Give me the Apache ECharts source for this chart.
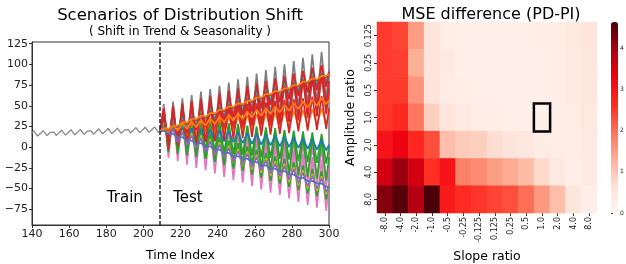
<!DOCTYPE html>
<html>
<head>
<meta charset="utf-8">
<script src="https://cdn.jsdelivr.net/npm/echarts@6/dist/echarts.min.js"></script>
<style>
html, body { margin: 0; padding: 0; background: #fff; }
#main { width: 626px; height: 264px; }
</style>
</head>
<body>
<div id="main"></div>
<script>
// ---- left panel: train series (time index 140..209) ----
var trainStart = 140;
var trainValues = [17.1, 19.6, 17.3, 13.4, 13.5, 17.5, 20.0, 17.6, 13.8, 13.9,
    17.9, 20.3, 18.0, 14.2, 14.3, 18.2, 20.7, 18.4, 14.6, 14.6,
    18.6, 21.1, 18.8, 14.9, 15.0, 19.0, 21.5, 19.1, 15.3, 15.4,
    19.4, 21.8, 19.5, 15.7, 15.8, 19.7, 22.2, 19.9, 16.1, 16.1,
    20.1, 22.6, 20.3, 16.4, 16.5, 20.5, 23.0, 20.6, 16.8, 16.9,
    20.9, 23.3, 21.0, 17.2, 17.3, 21.2, 23.7, 21.4, 17.6, 17.6,
    21.6, 24.1, 21.8, 17.9, 18.0, 22.0, 24.5, 22.1, 18.3, 18.4];
var splitAt = 209;

// test part: peaks / troughs
var testTimes = [209, 211, 213.5, 216, 218.5, 221, 223.5, 226, 228.5, 231, 233.5, 236, 238.5,
    241, 243.5, 246, 248.5, 251, 253.5, 256, 258.5, 261, 263.5, 266, 268.5, 271, 273.5,
    276, 278.5, 281, 283.5, 286, 288.5, 291, 293.5, 296, 298.5, 300];

var testGrey = [18.4, 52,-7, 55,-3, 59,1, 63,5, 67,8, 70,12, 74,16, 78,20, 82,23, 85,27, 89,31, 93,35, 97,38, 100,42, 104,46, 108,50, 112,53, 115,57, 94];
var testPink = [18.4, 49,-13, 45,-17, 41,-21, 37,-25, 34,-28, 30,-32, 26,-36, 22,-40, 19,-43, 15,-47, 11,-51, 7,-55, 4,-58, 0,-62, -4,-66, -8,-70, -12,-73, -15,-77, -42];
var testGreySoft = [18.4, 43,0, 46,3, 48,5, 51,8, 53,10, 56,13, 58,15, 61,18, 63,20, 66,23, 68,25, 71,28, 73,30, 76,33, 78,35, 81,38, 83,40, 86,43, 70];
var testPinkSoft = [18.4, 41,-4, 39,-7, 36,-9, 34,-12, 31,-14, 29,-17, 26,-19, 24,-22, 21,-24, 19,-27, 16,-29, 14,-32, 11,-34, 9,-37, 6,-39, 4,-42, 1,-44, -2,-47, -21];
var testGreenLow = [18.4, 35,1, 31,-3, 27,-7, 23,-11, 20,-14, 16,-18, 12,-22, 8,-26, 5,-29, 1,-33, -3,-37, -7,-41, -11,-44, -14,-48, -18,-52, -22,-56, -26,-59, -29,-63, -45];
var testOlive = [18.4, 29,7, 25,3, 21,-1, 17,-5, 14,-8, 10,-12, 6,-16, 2,-20, -2,-23, -5,-27, -9,-31, -13,-35, -17,-38, -20,-42, -24,-46, -28,-50, -32,-53, -35,-57, -46];
var testRedBig = [18.4, 47,-3, 50,0, 53,3, 56,6, 59,9, 62,12, 65,15, 68,18, 71,21, 74,24, 77,27, 80,30, 83,33, 86,36, 89,39, 92,42, 95,45, 98,48, 80];
var testGreenBig = [18.4, 43,-6, 41,-8, 39,-10, 37,-12, 35,-14, 33,-16, 31,-18, 29,-20, 27,-22, 25,-24, 23,-26, 21,-28, 19,-30, 17,-32, 15,-34, 13,-36, 11,-38, 9,-40, -12];
var testRedWide = [18.4, 46,-3, 49,0, 51,2, 54,5, 56,7, 59,10, 61,12, 64,15, 66,17, 69,20, 71,22, 74,25, 76,27, 79,30, 81,32, 84,35, 86,37, 89,40, 71];
var testGreenMid = [18.4, 38,1, 36,0, 35,-2, 34,-3, 33,-4, 31,-5, 30,-7, 29,-8, 28,-9, 26,-10, 25,-12, 24,-13, 23,-14, 21,-15, 20,-17, 19,-18, 18,-19, 16,-20, 1];
var testBlueMid = [18.4, 26,13, 25,12, 24,11, 23,10, 22,9, 21,8, 20,7, 19,6, 18,5, 17,4, 16,3, 15,2, 14,1, 13,0, 12,-1, 11,-2, 10,-3, 9,-4, 3];
var testOrangeLow = [18.4, 30,11, 31,12, 32,13, 33,14, 34,15, 35,16, 36,17, 37,18, 38,19, 39,20, 40,21, 41,22, 42,23, 43,24, 44,25, 45,26, 46,27, 47,28, 40];
var testRedMid = [18.4, 41,1, 42,2, 43,4, 44,5, 46,6, 47,7, 48,9, 49,10, 51,11, 52,12, 53,14, 54,15, 56,16, 57,17, 58,19, 59,20, 61,21, 62,22, 47];
var testPurple = [18.4, 26,10, 22,6, 18,2, 14,-2, 11,-5, 7,-9, 3,-13, -1,-17, -5,-20, -8,-24, -12,-28, -16,-32, -20,-35, -23,-39, -27,-43, -31,-47, -35,-50, -38,-54, -47];
var testCyan = [18.4, 30,15, 33,19, 37,23, 41,27, 45,30, 48,34, 52,38, 56,42, 60,45, 63,49, 67,53, 71,57, 75,60, 78,64, 82,68, 86,72, 90,75, 93,79, 90];
var testRedHigh = [18.4, 36,9, 39,13, 43,17, 47,21, 51,24, 54,28, 58,32, 62,36, 66,39, 69,43, 73,47, 77,51, 81,54, 84,58, 88,62, 92,66, 96,69, 99,73, 91];
var testOrangeMid = [18.4, 25,18, 27,20, 29,22, 31,24, 33,26, 35,28, 37,30, 39,32, 41,34, 43,36, 45,38, 47,40, 49,42, 51,44, 53,46, 55,48, 57,50, 59,52, 57];
var testBrown = [18.4, 25,20, 28,24, 32,28, 36,32, 40,35, 43,39, 47,43, 51,47, 55,50, 58,54, 62,58, 66,62, 70,65, 73,69, 77,73, 81,77, 85,80, 88,84, 89];
var testOrangeTop = [18.4, 23,22, 26,26, 30,30, 34,34, 38,37, 41,41, 45,45, 49,49, 53,52, 56,56, 60,60, 64,64, 68,67, 71,71, 75,75, 79,79, 83,82, 86,86, 88];
var testBlueLow = [18.4, 20,16, 16,12, 12,8, 8,4, 5,1, 1,-3, -3,-7, -7,-11, -11,-14, -14,-18, -18,-22, -22,-26, -26,-29, -29,-33, -33,-37, -37,-41, -41,-44, -44,-48, -48];

var yTicks = [-75, -50, -25, 0, 25, 50, 75, 100, 125];

// ---- right panel: heatmap ----
var slopeLabels = ['-8.0', '-4.0', '-2.0', '-1.0', '-0.5', '-0.25', '-0.125', '0.125', '0.25', '0.5', '1.0', '2.0', '4.0', '8.0'];
var ampLabels = ['0.125', '0.25', '0.5', '1.0', '2.0', '4.0', '8.0'];
var mseAmp0125 = [2.5, 2.4, 1.5, 0.5, 0.25, 0.2, 0.2, 0.2, 0.2, 0.2, 0.25, 0.3, 0.4, 0.5];
var mseAmp025 = [2.5, 2.45, 1.3, 0.55, 0.35, 0.2, 0.2, 0.2, 0.2, 0.2, 0.2, 0.25, 0.35, 0.45];
var mseAmp05 = [2.5, 2.5, 1.6, 0.55, 0.3, 0.25, 0.2, 0.2, 0.2, 0.2, 0.2, 0.25, 0.35, 0.45];
var mseAmp1 = [2.55, 2.7, 1.9, 0.9, 0.5, 0.35, 0.3, 0.25, 0.2, 0.15, 0.15, 0.2, 0.3, 0.4];
var mseAmp2 = [3.0, 3.3, 2.7, 2.3, 1.1, 0.95, 0.9, 0.7, 0.55, 0.45, 0.3, 0.3, 0.3, 0.35];
var mseAmp4 = [3.6, 4.1, 3.6, 2.6, 3.0, 1.8, 1.7, 1.5, 1.35, 1.15, 0.75, 0.4, 0.2, 0.35];
var mseAmp8 = [4.25, 4.55, 3.9, 4.64, 2.9, 2.65, 2.55, 2.4, 2.3, 2.0, 1.55, 1.1, 0.5, 0.2];
var mseMax = 4.64;
var noDriftCell = ['1.0', '1.0'];

var font = 'DejaVu Sans';
var myChart = echarts.init(document.getElementById('main'));

function minus(v) {
    return String(v).replace('-', '\u2212');
}

var trainData = trainValues.map(function (v, i) { return [trainStart + i, v]; });

var testSets = [
    [testGrey, '#7f7f7f'],
    [testPink, '#e377c2'],
    [testGreySoft, '#7f7f7f'],
    [testPinkSoft, '#e377c2'],
    [testGreenLow, '#2ca02c'],
    [testOlive, '#bcbd22'],
    [testRedBig, '#d62728'],
    [testGreenBig, '#2ca02c'],
    [testRedWide, '#d62728'],
    [testGreenMid, '#2ca02c'],
    [testBlueMid, '#1f77b4'],
    [testOrangeLow, '#ff7f0e'],
    [testRedMid, '#d62728'],
    [testPurple, '#9467bd'],
    [testCyan, '#17becf'],
    [testRedHigh, '#d62728'],
    [testOrangeMid, '#ff7f0e'],
    [testBrown, '#8c564b'],
    [testOrangeTop, '#ff7f0e'],
    [testBlueLow, '#5a6fbf']
];

var series = [];
testSets.forEach(function (s) {
    series.push({
        type: 'line',
        xAxisIndex: 0,
        yAxisIndex: 0,
        showSymbol: false,
        silent: true,
        data: s[0].map(function (v, i) { return [testTimes[i], v]; }),
        lineStyle: { color: s[1], width: 1.7 }
    });
});

series.push({
    type: 'line',
    xAxisIndex: 0,
    yAxisIndex: 0,
    showSymbol: false,
    silent: true,
    data: trainData,
    lineStyle: { color: '#8a8a8a', width: 1.3 },
    markLine: {
        silent: true,
        symbol: 'none',
        label: { show: false },
        lineStyle: { color: '#222', width: 1.5, type: [4, 2] },
        data: [{ xAxis: splitAt }]
    },
    markPoint: {
        silent: true,
        symbol: 'circle',
        symbolSize: 1,
        itemStyle: { color: 'rgba(0,0,0,0)' },
        label: { show: true, position: 'inside', fontSize: 15, color: '#000', fontFamily: font },
        data: [
            { coord: [190, -62], label: { formatter: 'Train' } },
            { coord: [224, -62], label: { formatter: 'Test' } }
        ]
    }
});

// heatmap cells
var mseRows = [mseAmp0125, mseAmp025, mseAmp05, mseAmp1, mseAmp2, mseAmp4, mseAmp8];
var heatData = [];
mseRows.forEach(function (row, j) {
    row.forEach(function (v, i) {
        heatData.push([i, j, v]);
    });
});
var heatIndex = series.length;
series.push({
    type: 'heatmap',
    xAxisIndex: 1,
    yAxisIndex: 1,
    data: heatData,
    silent: true,
    emphasis: { disabled: true }
});
series.push({
    type: 'heatmap',
    xAxisIndex: 1,
    yAxisIndex: 1,
    silent: true,
    data: [[slopeLabels.indexOf(noDriftCell[0]), ampLabels.indexOf(noDriftCell[1]), 0]],
    itemStyle: { color: 'rgba(0,0,0,0)', borderColor: '#000', borderWidth: 2.5 },
    emphasis: { disabled: true }
});

var option = {
    animation: false,
    textStyle: { fontFamily: font },
    title: [{
        text: 'Scenarios of Distribution Shift',
        subtext: '( Shift in Trend & Seasonality )',
        left: 175,
        top: 2,
        textAlign: 'center',
        itemGap: 2,
        textStyle: { fontSize: 16.5, fontWeight: 'normal', color: '#000', fontFamily: font },
        subtextStyle: { fontSize: 12, color: '#000', fontFamily: font }
    }, {
        text: 'MSE difference (PD-PI)',
        left: 486,
        top: 2,
        textAlign: 'center',
        textStyle: { fontSize: 16, fontWeight: 'normal', color: '#000', fontFamily: font }
    }],
    grid: [
        { left: 32, top: 42, width: 297, height: 183, outerBoundsMode: 'none', show: true, borderColor: '#333', borderWidth: 1, backgroundColor: 'rgba(0,0,0,0)' },
        { left: 377, top: 22, width: 220, height: 191, outerBoundsMode: 'none' },
        { left: 611, top: 22, width: 7, height: 191, outerBoundsMode: 'none' }
    ],
    xAxis: [{
        gridIndex: 0,
        type: 'value',
        min: 140,
        max: 300,
        interval: 20,
        name: 'Time Index',
        nameLocation: 'middle',
        nameGap: 24,
        nameTextStyle: { fontSize: 12.5, color: '#000' },
        axisLine: { show: true, onZero: false, lineStyle: { color: '#333' } },
        axisTick: { show: true, inside: false, length: 3, lineStyle: { color: '#333' } },
        axisLabel: { fontSize: 11, color: '#222', margin: 4 },
        splitLine: { show: false }
    }, {
        gridIndex: 1,
        type: 'category',
        data: slopeLabels,
        name: 'Slope ratio',
        nameLocation: 'middle',
        nameGap: 34,
        nameTextStyle: { fontSize: 12.5, color: '#000' },
        axisLine: { show: false },
        axisTick: { show: true, length: 3, alignWithLabel: true, lineStyle: { color: '#333' } },
        axisLabel: { rotate: 90, interval: 0, fontSize: 8, color: '#222', margin: 4 },
        splitLine: { show: false }
    }, {
        gridIndex: 2,
        type: 'value',
        show: false
    }],
    yAxis: [{
        gridIndex: 0,
        type: 'value',
        min: -94,
        max: 127,
        axisLine: { show: true, onZero: false, lineStyle: { color: '#333' } },
        axisTick: { show: true, inside: false, length: 3, customValues: yTicks, lineStyle: { color: '#333' } },
        axisLabel: { fontSize: 11, color: '#222', margin: 4, customValues: yTicks, formatter: minus },
        splitLine: { show: false }
    }, {
        gridIndex: 1,
        type: 'category',
        data: ampLabels,
        inverse: true,
        name: 'Amplitude ratio',
        nameLocation: 'middle',
        nameGap: 20,
        nameTextStyle: { fontSize: 12.5, color: '#000' },
        axisLine: { show: false },
        axisTick: { show: true, length: 3, alignWithLabel: true, lineStyle: { color: '#333' } },
        axisLabel: { rotate: 90, interval: 0, fontSize: 8, color: '#222', margin: 4 },
        splitLine: { show: false }
    }, {
        gridIndex: 2,
        type: 'value',
        position: 'right',
        min: 0,
        max: mseMax,
        interval: 1,
        axisLine: { show: false },
        axisTick: { show: true, length: 2, lineStyle: { color: '#333' } },
        axisLabel: { show: true, fontSize: 6, color: '#222', margin: 2, showMaxLabel: false },
        splitLine: { show: false }
    }],
    visualMap: {
        type: 'continuous',
        seriesIndex: heatIndex,
        min: 0,
        max: mseMax,
        calculable: false,
        left: 611,
        top: 22,
        padding: 0,
        itemWidth: 7,
        itemHeight: 191,
        text: ['', ''],
        textStyle: { fontSize: 1, color: 'rgba(0,0,0,0)' },
        inRange: {
            color: ['#fff5f0', '#fee1d6', '#fcae95', '#fc7055', '#ff2a20', '#ee0010', '#ac0010', '#4a0008']
        }
    },
    graphic: [{
        type: 'text',
        x: 547,
        y: 90,
        silent: true,
        style: {
            text: 'w/o Distribution Drift',
            align: 'center',
            verticalAlign: 'middle',
            fontSize: 9,
            fontFamily: font,
            fill: '#222'
        }
    }],
    series: series
};

myChart.setOption(option);
</script>
</body>
</html>
